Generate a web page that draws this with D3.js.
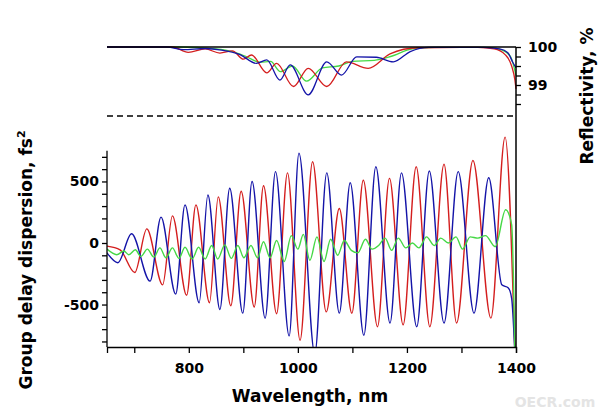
<!DOCTYPE html>
<html><head><meta charset="utf-8">
<script src="https://cdn.jsdelivr.net/npm/d3@7"></script>
<style>body{margin:0;background:#fff}text{font-family:"DejaVu Sans",sans-serif;font-weight:bold}</style>
</head><body><svg id="c" width="599" height="417"></svg>
<script>
// GDD extrema (wavelength nm, fs^2)
const blueGDD=[[650,-80],[670,-160],[695,75],[729,-310],[749,210],[776,-415],[793,310],[819,-485],[835,390],[857,-540],[875,445],[899,-570],[916,500],[940,-610],[959,580],[984,-755],[1002,730],[1031,-900],[1053,570],[1076,-570],[1096,490],[1121,-750],[1143,620],[1169,-650],[1190,570],[1218,-680],[1241,585],[1268,-650],[1294,580],[1323,-570],[1350,530],[1374,-340],[1386,-365],[1392,-450],[1398,-900]];
const redGDD=[[650,-25],[674,-55],[701,-240],[723,115],[752,-340],[770,220],[796,-425],[813,310],[838,-485],[854,375],[877,-510],[896,420],[920,-520],[937,465],[961,-575],[981,570],[1004,-790],[1027,660],[1052,-560],[1076,280],[1099,-570],[1120,510],[1146,-680],[1168,525],[1193,-665],[1217,620],[1242,-680],[1268,640],[1291,-650],[1321,670],[1354,-610],[1380,860],[1398,-900]];
const greenGDD=[[650,-50],[668,-95],[681,-65],[690,-95],[702,-55],[712,-110],[724,-50],[736,-115],[747,-40],[758,-120],[770,-40],[782,-125],[793,-35],[806,-130],[818,-35],[830,-130],[842,-20],[853,-130],[866,-15],[878,-125],[890,-20],[901,-120],[914,-20],[926,-120],[937,10],[949,-120],[961,20],[975,-150],[988,60],[1000,-50],[1010,70],[1022,-140],[1035,50],[1048,-150],[1060,30],[1073,-100],[1085,20],[1098,-60],[1110,-80],[1124,30],[1136,-50],[1148,-20],[1160,40],[1172,-60],[1184,40],[1198,-40],[1210,0],[1222,-40],[1236,50],[1250,-20],[1262,40],[1276,0],[1290,50],[1302,-50],[1316,50],[1330,40],[1344,60],[1362,-30],[1381,270],[1392,150],[1398,-900]];
// Reflectivity (%)
const blueR=[[650,100],[760,100],[790,99.93],[830,99.96],[860,99.92],[894,99.8],[924,99.57],[943,99.66],[967,99.13],[986,99.53],[1019,98.74],[1053,99.61],[1080,99.26],[1108,99.74],[1144,99.73],[1175,99.61],[1206,99.88],[1240,99.99],[1340,99.99],[1370,99.95],[1385,99.85],[1394,99.6],[1400,99.45]];
const redR=[[650,100],[770,100],[799,99.86],[830,99.95],[857,99.84],[880,99.9],[900,99.68],[915,99.79],[943,99.32],[961,99.57],[992,98.96],[1019,99.44],[1053,98.96],[1089,99.61],[1129,99.44],[1169,99.82],[1220,99.98],[1330,99.99],[1360,99.95],[1380,99.8],[1392,99.5],[1398,99.13],[1400,98.9]];
const greenR=[[650,100],[780,100],[850,99.95],[880,99.88],[905,99.75],[930,99.6],[950,99.62],[968,99.35],[990,99.5],[1016,99.1],[1045,99.45],[1075,99.5],[1100,99.62],[1140,99.65],[1170,99.75],[1210,99.95],[1250,99.99],[1350,99.99],[1375,99.92],[1390,99.75],[1400,99.25]];
const xTicks=[700,800,900,1000,1100,1200,1300,1400], xLabels=[800,1000,1200,1400];
const gddTicks=d3.range(-800,701,100), gddLabels=[-500,0,500];
const rTicks=[100,99.75,99.5,99.25,99,98.75,98.5], rLabels=[100,99];

const svg=d3.select("#c");
const x=d3.scaleLinear().domain([650,1400]).range([107,516]);
const y=d3.scaleLinear().domain([-845,0]).range([347,243]);
const yr=d3.scaleLinear().domain([99,100]).range([85,47]);
const cols={b:"#1414a8",r:"#d41e1e",g:"#45d845"};
const defs=svg.append("defs");
defs.append("clipPath").attr("id","cl").append("rect").attr("x",107).attr("y",120).attr("width",409).attr("height",227);
const lineG=d3.line().x(d=>x(d[0])).y(d=>y(d[1])).curve(d3.curveMonotoneX);
const lineR=d3.line().x(d=>x(d[0])).y(d=>yr(d[1])).curve(d3.curveMonotoneX);
const gg=svg.append("g").attr("clip-path","url(#cl)");
[[redGDD,cols.r],[blueGDD,cols.b],[greenGDD,cols.g]].forEach(([d,c])=>gg.append("path").attr("d",lineG(d)).attr("fill","none").attr("stroke",c).attr("stroke-width",1.4));
[[greenR,cols.g],[redR,cols.r],[blueR,cols.b]].forEach(([d,c])=>svg.append("path").attr("d",lineR(d)).attr("fill","none").attr("stroke",c).attr("stroke-width",1.3));
// frame
svg.append("line").attr("x1",107).attr("x2",516).attr("y1",47).attr("y2",47).attr("stroke","#000").attr("stroke-width",1.5);
svg.append("line").attr("x1",107).attr("x2",516).attr("y1",116).attr("y2",116).attr("stroke","#000").attr("stroke-width",1.3).attr("stroke-dasharray","6,4");
// axes
const ax=svg.append("g").attr("transform","translate(0,347)").call(d3.axisBottom(x).tickValues(xTicks).tickSize(6).tickFormat(d=>xLabels.includes(d)?d:""));
const ay=svg.append("g").attr("transform","translate(107,0)").call(d3.axisLeft(y).tickValues(gddTicks).tickSize(5).tickFormat(d=>gddLabels.includes(d)?d:""));
const ar=svg.append("g").attr("transform","translate(516,0)").call(d3.axisRight(yr).tickValues(rTicks).tickSize(5).tickFormat(d=>rLabels.includes(d)?d:""));
svg.append("line").attr("x1",516).attr("x2",516).attr("y1",47).attr("y2",347).attr("stroke","#000").attr("stroke-width",1.5);
ay.select(".domain").attr("d","M0,"+y(750)+"V347");
ar.select(".domain").remove();
[ax,ay,ar].forEach(a=>{a.selectAll("path,line").attr("stroke","#000").attr("stroke-width",1.3);a.selectAll("text").attr("font-size",14).attr("font-family","DejaVu Sans").attr("font-weight","bold").attr("fill","#000");});
ax.selectAll("text").attr("dy","1.2em");
ar.selectAll("text").attr("x",12);
svg.append("text").attr("x",310).attr("y",402).attr("text-anchor","middle").attr("font-size",17).text("Wavelength, nm");
const t=svg.append("text").attr("transform","translate(32,260) rotate(-90)").attr("text-anchor","middle").attr("font-size",17);
t.append("tspan").text("Group delay dispersion, fs");t.append("tspan").attr("font-size",11).attr("dy",-7).text("2");
svg.append("text").attr("transform","translate(593,96) rotate(-90)").attr("text-anchor","middle").attr("font-size",17).text("Reflectivity, %");
svg.append("text").attr("x",555).attr("y",407).attr("text-anchor","middle").attr("font-size",14).attr("fill","#e4e4e4").text("OECR.com");
</script></body></html>
